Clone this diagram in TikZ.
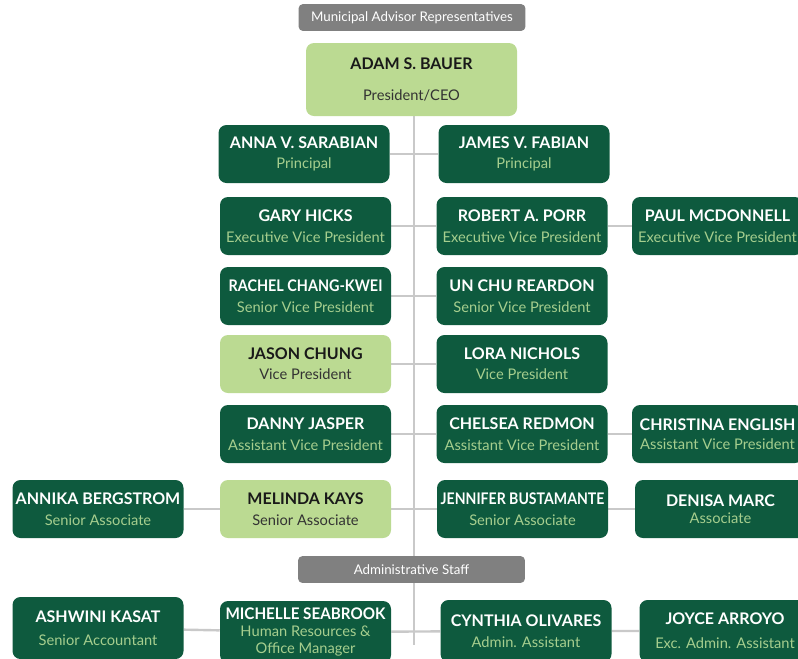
\documentclass[tikz,border=0pt]{standalone}
\usepackage{fontspec}
\setmainfont{Lato}
\usetikzlibrary{backgrounds}
\definecolor{pinegreen}{HTML}{0E5A3E}
\definecolor{leafgreen}{HTML}{BBDA92}
\definecolor{titlegreen}{HTML}{A6CE8E}
\definecolor{bandgray}{HTML}{808080}
\definecolor{linkgray}{HTML}{C9C9C9}
\def\namefont{\fontsize{12}{14}\selectfont\bfseries}
\def\sub#1{{\fontsize{11}{13}\selectfont\mdseries\color{subcol}#1}}
\tikzset{
  staff/.style={rounded corners=6pt, fill=pinegreen, text=white, align=center,
    minimum width=128.25pt, minimum height=43.5pt, inner sep=1pt, font=\namefont,
    execute at begin node={\colorlet{subcol}{titlegreen}}},
  lead/.style={staff, fill=leafgreen, text=black!90,
    execute at begin node={\colorlet{subcol}{black!80}}},
  band/.style={rounded corners=3pt, fill=bandgray, text=white, minimum width=170pt,
    minimum height=20pt, inner sep=0pt, font=\fontsize{10}{12}\selectfont},
  link/.style={draw=linkgray, line width=1.8pt}
}

\begin{document}
\begin{tikzpicture}[x=0.75pt,y=-0.75pt]
  %%%%% START %%%%%
  \useasboundingbox (0,0) rectangle (798,658);
  \clip (0,0) rectangle (798,658);

  \node[band] (reps) at (412,17.5) {Municipal Advisor Representatives};
  \node[lead, minimum width=158.25pt, minimum height=54.75pt] (bauer) at (411.5,79.5)
    {ADAM S. BAUER\\[9pt]\sub{President/CEO}};

  % left column
  \node[staff] (sarabian) at (304,154) {ANNA V. SARABIAN\\[1pt]\sub{Principal}};
  \node[staff] (hicks) at (305.5,226) {GARY HICKS\\[2pt]\sub{Executive Vice President}};
  \node[staff] (changkwei) at (305.5,296) {\scalebox{0.9}[1]{RACHEL CHANG-KWEI}\\[2pt]\sub{Senior Vice President}};
  \node[lead] (chung) at (305.5,364) {JASON CHUNG\\[1pt]\sub{Vice President}};
  \node[staff] (jasper) at (305.5,434) {DANNY JASPER\\[2pt]\sub{Assistant Vice President}};
  \node[lead] (kays) at (305.5,509) {MELINDA KAYS\\[2pt]\sub{Senior Associate}};
  \node[staff] (bergstrom) at (98,509) {ANNIKA BERGSTROM\\[2pt]\sub{Senior Associate}};

  % right column
  \node[staff] (fabian) at (524,154) {JAMES V. FABIAN\\[1pt]\sub{Principal}};
  \node[staff] (porr) at (522,226) {ROBERT A. PORR\\[2pt]\sub{Executive Vice President}};
  \node[staff] (mcdonnell) at (717.5,226) {PAUL MCDONNELL\\[2pt]\sub{Executive Vice President}};
  \node[staff] (reardon) at (522,296) {UN CHU REARDON\\[2pt]\sub{Senior Vice President}};
  \node[staff] (nichols) at (522,364) {LORA NICHOLS\\[1pt]\sub{Vice President}};
  \node[staff] (redmon) at (522,434) {CHELSEA REDMON\\[2pt]\sub{Assistant Vice President}};
  \node[staff] (english) at (717.5,434) {CHRISTINA ENGLISH\\[0pt]\sub{Assistant Vice President}};
  \node[staff] (bustamante) at (522.5,509) {\scalebox{0.88}[1]{JENNIFER BUSTAMANTE}\\[2pt]\sub{Senior Associate}};
  \node[staff] (marc) at (720.5,509) {DENISA MARC\\[-1pt]\sub{Associate}};

  % admin staff
  \node[band] (admin) at (411.5,569.5) {Administrative Staff};
  \node[staff, minimum height=46.5pt] (kasat) at (98,628) {ASHWINI KASAT\\[3pt]\sub{Senior Accountant}};
  \node[staff, minimum height=46.5pt] (seabrook) at (305.5,632)
    {\scalebox{0.95}[1]{MICHELLE SEABROOK}\\[-1pt]\sub{Human Resources \&}\\[-1pt]\sub{Office Manager}};
  \node[staff, minimum height=46.5pt] (olivares) at (526,631) {CYNTHIA OLIVARES\\[2pt]\sub{Admin. Assistant}};
  \node[staff, minimum height=46.5pt] (arroyo) at (725,631) {JOYCE ARROYO\\[4pt]\sub{Exc. Admin. Assistant}};

  \coordinate (trunkend) at (414,645);

  \begin{pgfonlayer}{background}
    \draw[link] (bauer.south -| trunkend) -- (trunkend);
    \draw[link] (sarabian) -- (fabian);
    \draw[link] (hicks) -- (porr) -- (mcdonnell);
    \draw[link] (changkwei) -- (reardon);
    \draw[link] (chung) -- (nichols);
    \draw[link] (jasper) -- (redmon) -- (english);
    \draw[link] (bergstrom) -- (kays) -- (bustamante) -- (marc);
    \draw[link] (kasat) -- (seabrook) -- (olivares) -- (arroyo);
  \end{pgfonlayer}
  %%%%% END %%%%%
\end{tikzpicture}
\end{document}
